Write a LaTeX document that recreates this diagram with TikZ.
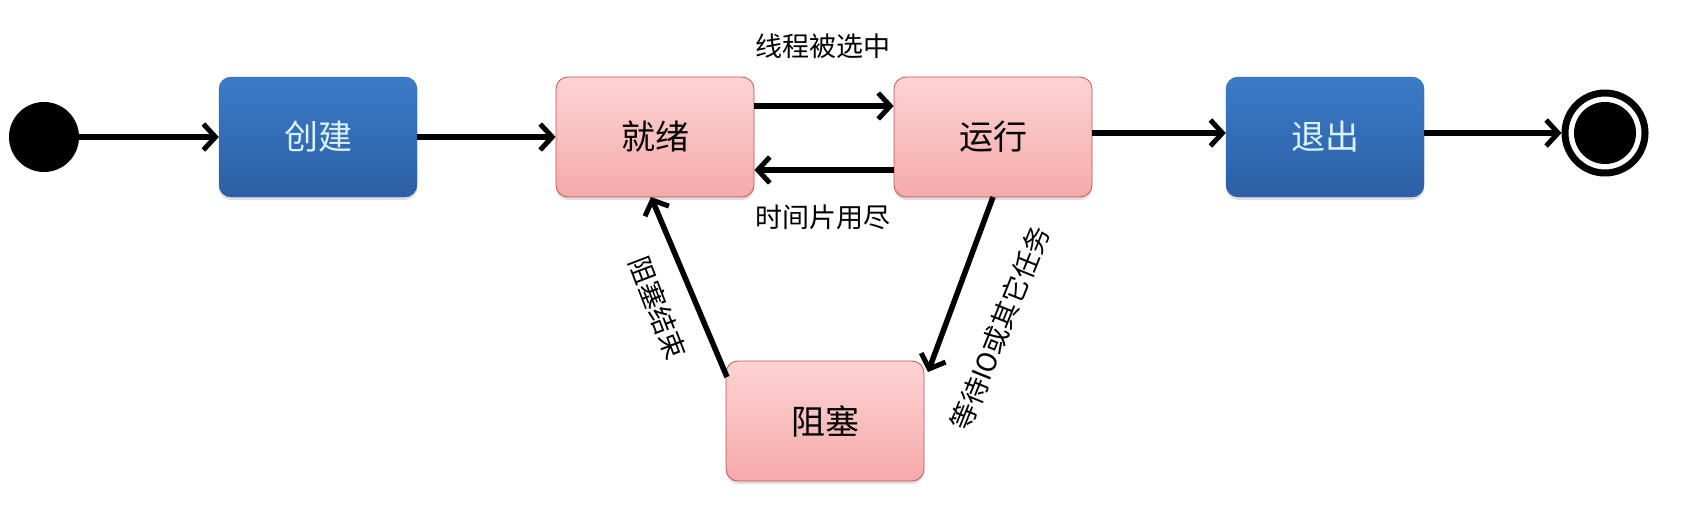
\documentclass[tikz,border=0pt]{standalone}
\usepackage{fontspec}
\setmainfont{Noto Sans CJK SC}
\usetikzlibrary{arrows.meta,shadows}
\definecolor{bluetop}{HTML}{3B7BC8}
\definecolor{bluebot}{HTML}{2C5FA5}
\definecolor{pinkf}{HTML}{FDD3D3}
\definecolor{pinkd}{HTML}{F6AAAA}
\definecolor{redb}{HTML}{C85050}
\begin{document}
\begin{tikzpicture}[x=1pt,y=-1pt,
  box/.style={rounded corners=12pt,minimum width=198pt,minimum height=120pt,font=\fontsize{34}{34}\selectfont,drop shadow={shadow xshift=0pt,shadow yshift=-3pt,opacity=0.25}},
  bluebox/.style={box,top color=bluetop,bottom color=bluebot,draw=bluebot,text=white!85!cyan},
  pinkbox/.style={box,top color=pinkf,bottom color=pinkd,draw=redb,line width=0.8pt},
  arr/.style={-{Straight Barb[length=12pt,width=26pt,line width=5pt]},line width=5.5pt},
  lab/.style={font=\fontsize{27}{27}\selectfont}]
\useasboundingbox (0,0) rectangle (1707,528);
\node[circle,fill=black,minimum size=70pt,inner sep=0] (s) at (44,137) {};
\node[bluebox] (c) at (318,137) {创建};
\node[pinkbox] (r) at (655,137) {就绪};
\node[pinkbox] (u) at (993,137) {运行};
\node[bluebox] (q) at (1325,137) {退出};
\node[pinkbox] (b) at (825,421) {阻塞};
\node[circle,draw=black,line width=7pt,minimum size=80pt,inner sep=0] (e) at (1605,133) {};
\node[circle,fill=black,minimum size=62pt,inner sep=0] at (e) {};
\draw[arr] (s) -- (c);
\draw[arr] (c) -- (r);
\draw[arr] (r.east |- 0,106) -- (u.west |- 0,106);
\draw[arr] (u.west |- 0,170) -- (r.east |- 0,170);
\draw[arr] (q.east |- e) -- (e.west);
\draw[arr] (u.east |- e) -- (q.west |- e);
\coordinate (ub) at (993,197);
\coordinate (bt) at (928,372);
\coordinate (bl) at (727,377);
\coordinate (rb) at (651,197);
\draw[arr] (ub) -- (bt);
\draw[arr] (bl) -- (rb);
\node[lab] (l1) at (823,46) {线程被选中};
\node[lab] (l2) at (823,217) {时间片用尽};
\node[lab,rotate=68] (l3) at (1000,328) {等待IO或其它任务};
\node[lab,rotate=-69] (l4) at (658,308) {阻塞结束};
\end{tikzpicture}
\end{document}
